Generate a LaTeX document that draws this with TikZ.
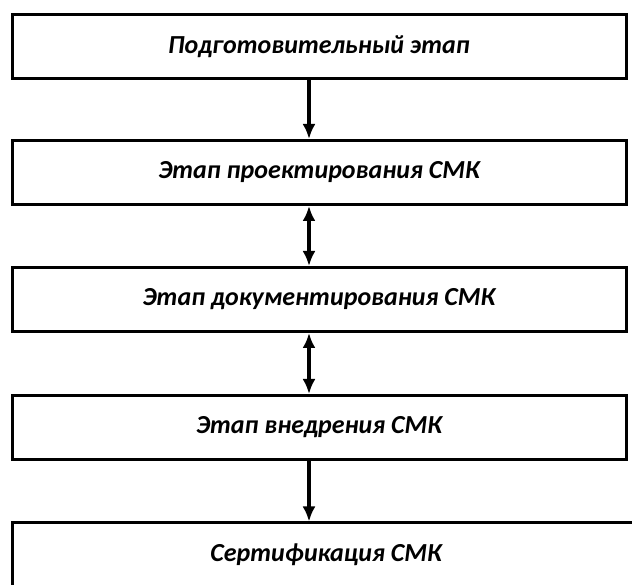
\documentclass[tikz,border=0pt]{standalone}
\usepackage{fontspec}
\setmainfont{Carlito}
\usetikzlibrary{arrows.meta}
\tikzstyle{stage}=[draw, line width=3pt, minimum width=614pt, minimum height=64pt, inner sep=0pt, font=\fontsize{26}{30}\selectfont\bfseries\itshape]
\tikzstyle{flow}=[line width=4pt, arrows={-Latex[length=15pt,width=13pt]}]
\tikzstyle{flowboth}=[line width=4pt, arrows={Latex[length=15pt,width=13pt]-Latex[length=15pt,width=13pt]}]
\begin{document}
\begin{tikzpicture}[x=1pt,y=1pt]
  \useasboundingbox (0,0) rectangle (632,585);
  \draw (319,538.5) node[stage] (S1) {Подготовительный этап};
  \draw (319,412.5) node[stage] (S2) {Этап проектирования СМК};
  \draw (319,285.5) node[stage] (S3) {Этап документирования СМК};
  \draw (319,157.5) node[stage] (S4) {Этап внедрения СМК};
  \draw (326,30) node[stage,minimum width=628pt] (S5) {Сертификация СМК};

  \draw[flow] ([xshift=-10pt]S1.south) -- ([xshift=-10pt]S2.north);
  \draw[flowboth] ([xshift=-10pt]S2.south) -- ([xshift=-10pt]S3.north);
  \draw[flowboth] ([xshift=-10pt]S3.south) -- ([xshift=-10pt]S4.north);
  \draw[flow] ([xshift=-10pt]S4.south) -- ([xshift=-10pt]S4.south |- S5.north);
\end{tikzpicture}
\end{document}
